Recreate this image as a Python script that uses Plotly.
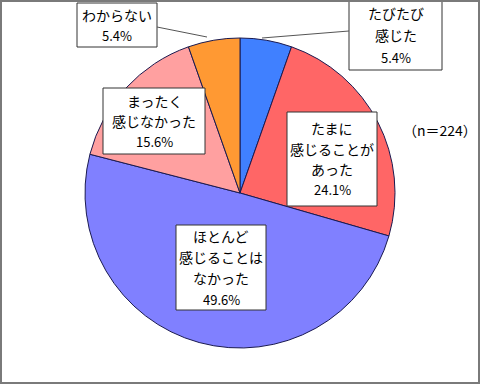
import plotly.graph_objects as go

categories = ["たびたび感じた", "たまに感じることがあった", "ほとんど感じることはなかった", "まったく感じなかった", "わからない"]
values = [5.4, 24.1, 49.6, 15.6, 5.4]
label_lines = [["たびたび", "感じた"], ["たまに", "感じることが", "あった"], ["ほとんど", "感じることは", "なかった"], ["まったく", "感じなかった"], ["わからない"]]
colors = ["#4080FF", "#FF6666", "#8080FF", "#FFA0A0", "#FF9933"]
note = "（n＝224）"

W, H = 480, 384
FONT = "Noto Sans CJK JP"

fig = go.Figure(go.Pie(
    labels=categories, values=values, sort=False, direction="clockwise", rotation=0,
    marker=dict(colors=colors, line=dict(color="#1a1a50", width=1)),
    textinfo="none", hoverinfo="label+percent", showlegend=False,
    domain=dict(x=[85/W, 395/W], y=[1-348/H, 1-38/H]),
))

# label boxes: (x0, y0, x1, y1) in pixels
boxes = [(349, 0, 442, 70), (287, 112, 377, 206), (176, 225, 266, 310), (103, 88, 205, 154), (77, 3, 157, 47)]
spacing = [22, 20.5, 21, 20, 20]
for i, (x0, y0, x1, y1) in enumerate(boxes):
    fig.add_shape(type="rect", xref="paper", yref="paper", x0=x0/W, x1=x1/W, y0=1-y1/H, y1=1-y0/H,
                  line=dict(color="#333333", width=1), fillcolor="white", layer="above")
    lines = label_lines[i] + [f"{values[i]:.1f}%"]
    n = len(lines)
    cy = (y0 + y1) / 2
    for j, ln in enumerate(lines):
        yy = cy + (j - (n - 1) / 2) * spacing[i]
        fs = 13 if j == n - 1 else 14
        fig.add_annotation(xref="paper", yref="paper", x=(x0+x1)/2/W, y=1-yy/H,
                           xanchor="center", yanchor="middle", showarrow=False, text=ln,
                           font=dict(family=FONT, size=fs, color="black"), align="center")

# leader lines
for (ax, ay, bx, by) in [(157, 27, 207, 37), (349, 31, 262, 38)]:
    fig.add_shape(type="line", xref="paper", yref="paper", x0=ax/W, y0=1-ay/H, x1=bx/W, y1=1-by/H,
                  line=dict(color="#555555", width=1))

fig.add_annotation(xref="paper", yref="paper", x=440/W, y=1-130/H, xanchor="center", yanchor="middle",
                   showarrow=False, text=note, font=dict(family=FONT, size=14, color="black"))

# outer frame
fig.add_shape(type="rect", xref="paper", yref="paper", x0=1/W, x1=1-1/W, y0=1/H, y1=1-1/H,
              line=dict(color="#7a7a7a", width=2))

fig.update_layout(width=W, height=H, margin=dict(l=0, r=0, t=0, b=0),
                  paper_bgcolor="white", plot_bgcolor="white")
fig.write_html("out.html")
